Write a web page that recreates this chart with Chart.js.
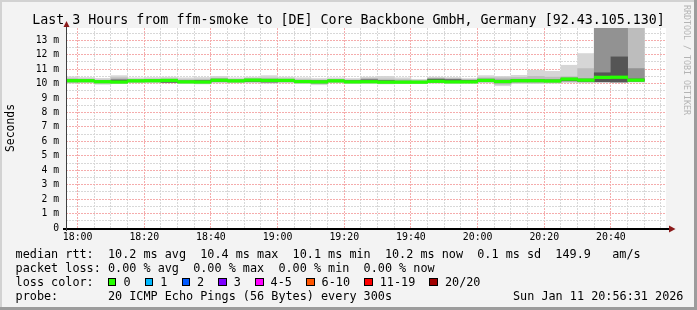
<!DOCTYPE html>
<html>
<head>
<meta charset="utf-8">
<script src="https://cdn.jsdelivr.net/npm/chart.js@4.4.1/dist/chart.umd.min.js"></script>
<style>
  html, body { margin: 0; padding: 0; background: #f3f3f3; }
  #wrap { position: relative; width: 697px; height: 310px; background: #f3f3f3; overflow: hidden;
          font-family: "DejaVu Sans Mono", monospace; color: #000; }
  #dataChart { position: absolute; left: 0; top: 0; }
  #title { position: absolute; left: 0; top: 11.5px; width: 697px; text-align: center;
           font-size: 13.3px; line-height: 16px; white-space: pre; }
  #mark { position: absolute; left: 682px; top: 5px; writing-mode: vertical-rl;
          font-size: 8.3px; line-height: 10px; color: #b4b4b4; white-space: pre; }
  .txt { position: absolute; white-space: pre; font-size: 11.8px; line-height: 14px; }
  .sw { display: inline-block; width: 6.4px; height: 6.4px; border: 1px solid #000;
        margin-right: 7.1px; vertical-align: baseline; }
  .edge { position: absolute; }
</style>
</head>
<body>
<div id="wrap">
  <canvas id="dataChart" width="697" height="310"></canvas>
  <div id="title">Last 3 Hours from ffm-smoke to [DE] Core Backbone GmbH, Germany [92.43.105.130]</div>
  <div id="mark">RRDTOOL / TOBI OETIKER</div>
  <div class="txt" style="left:15.6px;top:247.2px">median rtt:  10.2 ms avg  10.4 ms max  10.1 ms min  10.2 ms now  0.1 ms sd  149.9   am/s</div>
  <div class="txt" style="left:15.6px;top:261.2px">packet loss: 0.00 % avg  0.00 % max  0.00 % min  0.00 % now</div>
  <div class="txt" id="lossRow" style="left:15.6px;top:275.2px"></div>
  <div class="txt" style="left:15.6px;top:289px">probe:       20 ICMP Echo Pings (56 Bytes) every 300s</div>
  <div class="txt" style="left:513px;top:289px">Sun Jan 11 20:56:31 2026</div>
  <div class="edge" style="left:0;top:0;width:697px;height:2px;background:#d2d2d2"></div>
  <div class="edge" style="left:0;top:0;width:2px;height:310px;background:#d2d2d2"></div>
  <div class="edge" style="left:694px;top:0;width:3px;height:310px;background:#9c9c9c"></div>
  <div class="edge" style="left:0;top:307px;width:697px;height:3px;background:#9c9c9c"></div>
</div>
<script>
// 5-minute bins (start time of each step)
const binStarts = ['17:55', '18:00', '18:05', '18:10', '18:15', '18:20', '18:25', '18:30', '18:35', '18:40',
                   '18:45', '18:50', '18:55', '19:00', '19:05', '19:10', '19:15', '19:20', '19:25', '19:30',
                   '19:35', '19:40', '19:45', '19:50', '19:55', '20:00', '20:05', '20:10', '20:15', '20:20',
                   '20:25', '20:30', '20:35', '20:40', '20:45'];

// median rtt (ms)
const medianRtt = [10.20, 10.20, 10.13, 10.11, 10.19, 10.20, 10.22, 10.12, 10.11, 10.23,
                   10.19, 10.24, 10.22, 10.22, 10.14, 10.12, 10.19, 10.12, 10.13, 10.10,
                   10.10, 10.10, 10.16, 10.12, 10.12, 10.22, 10.14, 10.20, 10.20, 10.18,
                   10.31, 10.24, 10.43, 10.44, 10.24];

// smoke, outer -> inner (ms)
const smokeOuterLo = [10.02, 10.05, 9.95, 10.00, 10.05, 10.05, 10.05, 10.00, 9.98, 10.05,
                      10.05, 10.05, 10.02, 10.05, 10.00, 9.92, 10.05, 10.00, 10.00, 9.98,
                      10.00, 10.00, 10.02, 10.00, 10.02, 10.05, 9.85, 10.00, 10.00, 10.02,
                      10.08, 10.05, 10.10, 10.12, 10.10];
const smokeOuterHi = [10.47, 10.42, 10.36, 10.55, 10.40, 10.42, 10.45, 10.40, 10.42, 10.50,
                      10.40, 10.45, 10.55, 10.45, 10.40, 10.35, 10.40, 10.35, 10.45, 10.50,
                      10.40, 10.30, 10.45, 10.42, 10.35, 10.55, 10.50, 10.57, 10.92, 10.85,
                      11.27, 12.08, 14.50, 14.50, 14.50];
const smokeMidLo = [10.08, 10.10, 10.02, 10.05, 10.10, 10.10, 10.08, 10.05, 10.04, 10.10,
                    10.10, 10.10, 10.08, 10.10, 10.05, 10.00, 10.10, 10.05, 10.05, 10.04,
                    10.05, 10.05, 10.08, 10.05, 10.06, 10.10, 9.95, 10.06, 10.05, 10.06,
                    10.12, 10.10, 10.14, 10.15, 10.15];
const smokeMidHi = [10.35, 10.32, 10.25, 10.40, 10.30, 10.32, 10.33, 10.28, 10.30, 10.38,
                    10.30, 10.34, 10.38, 10.33, 10.28, 10.26, 10.30, 10.26, 10.36, 10.32,
                    10.28, 10.22, 10.38, 10.35, 10.28, 10.40, 10.40, 10.42, 10.50, 10.45,
                    10.48, 11.04, 14.50, 14.50, 14.50];
const smokeInnerLo = [10.12, 10.13, 10.06, 10.05, 10.12, 10.13, 10.10, 10.06, 10.05, 10.15,
                      10.12, 10.14, 10.12, 10.14, 10.07, 10.04, 10.12, 10.06, 10.07, 10.05,
                      10.05, 10.05, 10.10, 10.07, 10.08, 10.14, 10.05, 10.12, 10.12, 10.12,
                      10.18, 10.14, 10.15, 10.15, 10.18];
const smokeInnerHi = [10.28, 10.26, 10.20, 10.30, 10.25, 10.26, 10.28, 10.20, 10.22, 10.32,
                      10.25, 10.31, 10.30, 10.29, 10.22, 10.20, 10.25, 10.22, 10.30, 10.22,
                      10.18, 10.16, 10.33, 10.30, 10.24, 10.32, 10.26, 10.30, 10.30, 10.28,
                      10.40, 10.34, 14.50, 14.50, 11.04];
const smokeCoreLo = [10.14, 10.15, 10.08, 10.09, 10.14, 10.15, 10.09, 10.08, 10.07, 10.17,
                     10.14, 10.15, 10.11, 10.16, 10.09, 10.06, 10.14, 10.08, 10.09, 10.07,
                     10.07, 10.07, 10.12, 10.09, 10.09, 10.16, 10.07, 10.14, 10.14, 10.14,
                     10.20, 10.16, 10.12, 10.10, 10.17];
const smokeCoreHi = [10.25, 10.24, 10.18, 10.23, 10.23, 10.24, 10.26, 10.18, 10.20, 10.28,
                     10.23, 10.29, 10.27, 10.27, 10.20, 10.18, 10.23, 10.19, 10.24, 10.20,
                     10.16, 10.14, 10.30, 10.26, 10.22, 10.28, 10.22, 10.26, 10.26, 10.24,
                     10.36, 10.30, 10.75, 11.85, 10.32];

const xTickLabels = ['18:00', '18:20', '18:40', '19:00', '19:20', '19:40', '20:00', '20:20', '20:40'];
const yTickLabels = ['0', '1 m', '2 m', '3 m', '4 m', '5 m', '6 m', '7 m', '8 m', '9 m', '10 m', '11 m', '12 m', '13 m'];

const lossLabels = ['0', '1', '2', '3', '4-5', '6-10', '11-19', '20/20'];
const lossColors = ['#26ff00', '#00b8ff', '#0059ff', '#7e00ff', '#ff00ff', '#ff5500', '#ff0000', '#a00000'];

const viewStart = '17:56:31';
const viewEnd = '20:56:31';
const yMax = 13.85;

document.addEventListener('DOMContentLoaded', () => {
    const toMinutes = (t) => {
        const p = t.split(':').map(Number);
        return p[0] * 60 + p[1] + (p[2] || 0) / 60 - 18 * 60;
    };
    const xMin = toMinutes(viewStart);
    const xMax = toMinutes(viewEnd);
    const majorX = xTickLabels.map(toMinutes);

    // loss colour legend row
    const lossRow = document.getElementById('lossRow');
    let html = 'loss color:  ';
    lossLabels.forEach((label, i) => {
        html += `<span class="sw" style="background:${lossColors[i]}"></span>${label}  `;
    });
    lossRow.innerHTML = html;

    const mono = 'DejaVu Sans Mono';
    Chart.defaults.font.family = mono;

    const gridRed = '#f5acac';
    const gridGrey = '#d8d8d8';

    const layer = (lo, hi, color, order) => ({
        data: binStarts.map((t, i) => ({ x: toMinutes(t) + 2.5, y: [lo[i], hi[i]] })),
        backgroundColor: color,
        borderWidth: 0,
        grouped: false,
        categoryPercentage: 1,
        barPercentage: 1,
        clip: 0,
        order: order,
    });

    const medianLo = medianRtt.map(v => v - 0.09);
    const medianHi = medianRtt.map(v => v + 0.09);

    const frame = {
        id: 'frame',
        beforeDraw(chart) {
            const { ctx, chartArea: a } = chart;
            ctx.save();
            ctx.fillStyle = '#ffffff';
            ctx.fillRect(a.left, a.top, a.right - a.left, a.bottom - a.top);
            ctx.restore();
        },
        afterDraw(chart) {
            const { ctx, chartArea: a } = chart;
            ctx.save();
            ctx.fillStyle = '#000000';
            ctx.fillRect(a.left - 3, a.bottom, a.right - a.left + 7, 2);
            ctx.fillStyle = '#404040';
            ctx.fillRect(a.left, a.top - 3, 1, a.bottom - a.top + 6);
            ctx.fillStyle = '#8b1a1a';
            ctx.beginPath();
            ctx.moveTo(a.right + 3, a.bottom - 2.5);
            ctx.lineTo(a.right + 9.5, a.bottom + 1);
            ctx.lineTo(a.right + 3, a.bottom + 4.5);
            ctx.fill();
            ctx.beginPath();
            ctx.moveTo(a.left - 2.5, a.top - 1);
            ctx.lineTo(a.left + 0.5, a.top - 7);
            ctx.lineTo(a.left + 3.5, a.top - 1);
            ctx.fill();
            ctx.restore();
        }
    };

    const canvas = document.getElementById('dataChart');
    new Chart(canvas.getContext('2d'), {
        type: 'bar',
        data: {
            datasets: [
                layer(medianLo, medianHi, lossColors[0], 0),
                layer(smokeCoreLo, smokeCoreHi, '#555555', 1),
                layer(smokeInnerLo, smokeInnerHi, '#929292', 2),
                layer(smokeMidLo, smokeMidHi, '#bdbdbd', 3),
                layer(smokeOuterLo, smokeOuterHi, '#d6d6d6', 4),
            ],
        },
        options: {
            responsive: false,
            animation: false,
            events: [],
            layout: { padding: { top: 28, right: 31, bottom: 62, left: 0 } },
            plugins: {
                legend: { display: false },
                tooltip: { enabled: false },
            },
            scales: {
                x: {
                    type: 'linear',
                    min: xMin,
                    max: xMax,
                    offset: false,
                    z: 1,
                    afterBuildTicks: (scale) => {
                        const ticks = [];
                        for (let m = 0; m <= xMax; m += 5) ticks.push({ value: m });
                        scale.ticks = ticks;
                    },
                    afterFit: (scale) => { scale.height = 20; },
                    grid: {
                        offset: false,
                        drawTicks: false,
                        lineWidth: 1,
                        color: (c) => majorX.includes(c.tick.value) ? gridRed : gridGrey,
                    },
                    border: { display: false, dash: [2, 1] },
                    ticks: {
                        autoSkip: false,
                        maxRotation: 0,
                        padding: 3.5,
                        color: '#000',
                        font: { family: mono, size: 9.9 },
                        callback: (v) => {
                            const i = majorX.indexOf(v);
                            return i >= 0 ? xTickLabels[i] : '';
                        },
                    },
                },
                y: {
                    type: 'linear',
                    min: 0,
                    max: yMax,
                    z: 1,
                    afterBuildTicks: (scale) => {
                        const ticks = [];
                        for (let v = 0; v <= yMax; v += 0.5) ticks.push({ value: v });
                        scale.ticks = ticks;
                    },
                    afterFit: (scale) => { scale.width = 66; },
                    grid: {
                        drawTicks: false,
                        lineWidth: 1,
                        color: (c) => Number.isInteger(c.tick.value) ? gridRed : gridGrey,
                    },
                    border: { display: false, dash: [2, 1] },
                    ticks: {
                        autoSkip: false,
                        padding: 7,
                        color: '#000',
                        font: { family: mono, size: 9.7 },
                        callback: (v) => Number.isInteger(v) ? yTickLabels[v] : '',
                    },
                    title: {
                        display: true,
                        text: 'Seconds',
                        color: '#000',
                        font: { family: mono, size: 11.4 },
                        padding: { top: 4, bottom: 0 },
                    },
                },
            },
        },
        plugins: [frame],
    });
});
</script>
</body>
</html>
